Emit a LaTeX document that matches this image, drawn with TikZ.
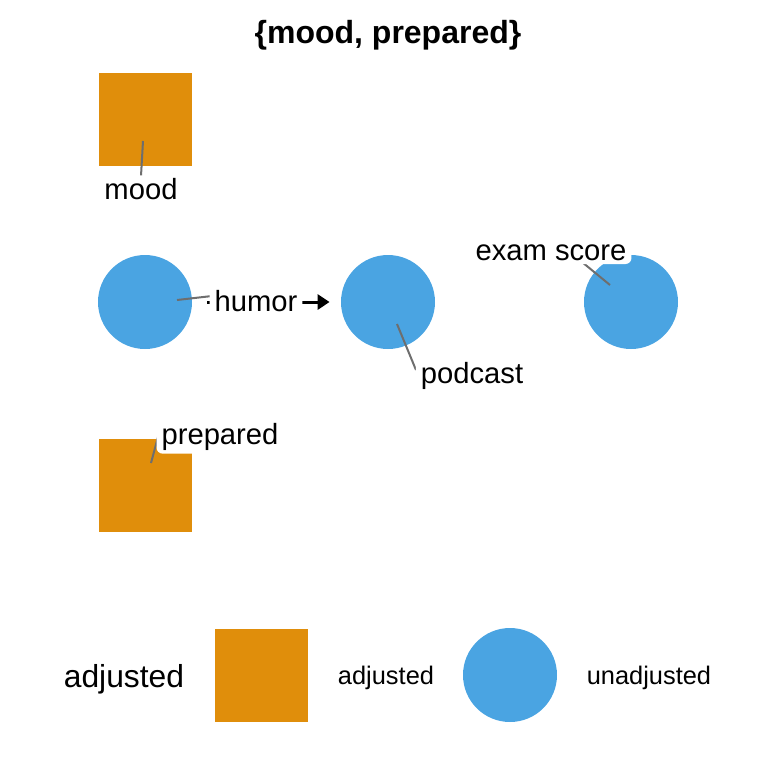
\documentclass[tikz,border=0pt]{standalone}
\usepackage{fontspec}
\setmainfont{Liberation Sans}
\usetikzlibrary{arrows.meta}
\definecolor{adjc}{HTML}{E08E0B}
\definecolor{unadjc}{HTML}{4AA4E2}
\definecolor{leadc}{HTML}{6E6E6E}
\tikzset{
  adjbox/.style={fill=adjc, draw=none, minimum size=46.5pt, inner sep=0pt, rectangle},
  unadjdot/.style={fill=unadjc, draw=none, minimum size=47pt, inner sep=0pt, circle},
  lbl/.style={fill=white, rounded corners=3pt, inner xsep=2.5pt, inner ysep=1.5pt, font=\fontsize{14.6}{16}\selectfont},
  leader/.style={draw=leadc, line width=1pt},
  dagedge/.style={draw=black, line width=1.5pt, -{Triangle[length=6pt,width=7.5pt]}, shorten <=7.5pt, shorten >=5.5pt},
  legtext/.style={font=\fontsize{12.7}{14}\selectfont, inner sep=0pt},
}
\begin{document}
\begin{tikzpicture}[x=0.5pt,y=-0.5pt]
\useasboundingbox (0,0) rectangle (768,768);
% title
\node[font=\bfseries\fontsize{16}{18}\selectfont, inner sep=0pt] (title) at (388,35) {\{mood, prepared\}};
% nodes
\node[adjbox] (mood) at (145,119) {};
\node[unadjdot] (humor) at (145,302) {};
\node[unadjdot] (podcast) at (388,302) {};
\node[unadjdot] (exam) at (631,302) {};
\node[adjbox] (prep) at (145,485) {};
% edge
\draw[dagedge] (humor) -- (podcast);
% leader lines
\coordinate (mA) at (143,141); \coordinate (mB) at (141,176);
\coordinate (hA) at (177,300); \coordinate (hB) at (212,296);
\coordinate (pA) at (397,324); \coordinate (pB) at (416,370);
\coordinate (eA) at (610,285); \coordinate (eB) at (582,262);
\coordinate (rA) at (151,463); \coordinate (rB) at (158,437);
\draw[leader] (mA) -- (mB);
\draw[leader] (hA) -- (hB);
\draw[leader] (pA) -- (pB);
\draw[leader] (eA) -- (eB);
\draw[leader] (rA) -- (rB);
% labels
\node[lbl] (lmood) at (141,189) {mood};
\node[lbl] (lhumor) at (256,301) {humor};
\node[lbl] (lpod) at (472,376) {podcast};
\node[lbl] (lexam) at (551,253) {exam score};
\node[lbl] (lprep) at (220,437) {prepared};
% legend
\node[font=\fontsize{15.9}{18}\selectfont, inner sep=0pt] (legtitle) at (124,679) {adjusted};
\node[adjbox] (legsq) at (261,675) {};
\node[legtext] (legadj) at (386,678) {adjusted};
\node[unadjdot] (legci) at (510,675) {};
\node[legtext] (legun) at (649,678) {unadjusted};
\end{tikzpicture}
\end{document}
